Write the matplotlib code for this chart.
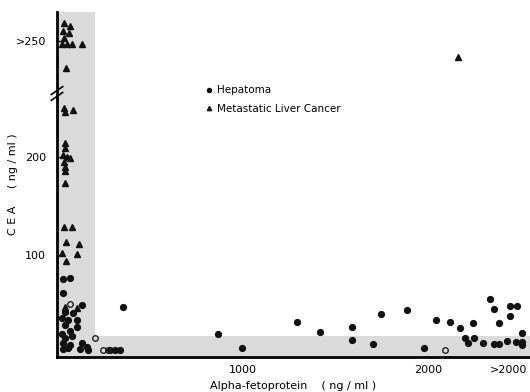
import matplotlib
matplotlib.use("Agg")
import matplotlib.pyplot as plt
import matplotlib.transforms as mtransforms

plt.rcParams['font.family'] = ['Liberation Sans Narrow', 'DejaVu Sans']

# AFP (ng/ml) on x; CEA plotted position on y (values above the break are on compressed scale)
hep_x = [32, 70, 32, 134, 43, 86, 27, 59, 108, 43, 108, 70, 27, 81, 43, 32, 70, 134, 161, 124, 167, 32, 59,
         285, 312, 339, 355,
         866, 995, 1290, 1414, 1586, 1586, 1699, 1747, 1882, 1978, 2043, 2118, 2167, 2242, 2333, 2355,
         2382, 2441, 2478, 2441, 2505, 2194, 2247, 2210, 2296, 2355, 2382, 2425, 2473, 2505, 2505]
hep_y = [76, 77, 61, 49, 42, 41, 36, 34, 34, 29, 27, 23, 20, 18, 15, 10, 8, 10, 6, 4, 3, 4, 5,
         3, 3, 3, 47,
         20, 5, 32, 22, 27, 13, 9, 40, 44, 5, 34, 32, 26, 31, 55, 45,
         31, 48, 48, 38, 21, 15, 15, 10, 10, 9, 9, 12, 11, 11, 8]

open_x = [70, 204, 247, 274, 2091]
open_y = [50, 16, 3, 3, 3]

met_x = [38, 70, 32, 65, 38, 27, 54, 81, 134, 48, 38, 43, 86, 43, 43, 32, 54, 70, 38, 43, 43, 43,
         38, 81, 48, 118, 27, 108, 48, 43, 108, 2161]
met_y = [337, 334, 329, 327, 322, 316, 316, 316, 316, 291, 250, 246, 248, 214, 209, 202, 200, 199,
         195, 190, 186, 174, 129, 129, 113, 111, 102, 101, 94, 47, 46, 302]

ytick_pos = [100, 200, 319]
ytick_labels = ['100', '200', '>250']
xtick_pos = [1000, 2000, 2430]
xtick_labels = ['1000', '2000', '>2000']

fig = plt.figure(figsize=(5.3, 3.92), dpi=100)
ax = fig.add_axes([0.1075, 0.089, 0.892, 0.88])

ax.set_xlim(0, 2545)
ax.set_ylim(-4, 348)

ax.axvspan(0, 204, color='#dadada', zorder=0, lw=0)
ax.axhspan(-4, 18, color='#dadada', zorder=0, lw=0)

ax.plot(hep_x, hep_y, 'o', color='#111111', ms=4.2, ls='none', label='Hepatoma', clip_on=False, zorder=3)
ax.plot(open_x, open_y, 'o', mfc='none', mec='#222222', mew=1.0, ms=4.0, ls='none', clip_on=False, zorder=3)
ax.plot(met_x, met_y, '^', color='#111111', ms=4.4, ls='none', label='Metastatic Liver Cancer', clip_on=False, zorder=3)

for s in ['top', 'right']:
    ax.spines[s].set_visible(False)
ax.spines['left'].set_linewidth(2.0)
ax.spines['bottom'].set_linewidth(2.0)

ax.set_yticks(ytick_pos)
ax.set_yticklabels(ytick_labels, fontsize=8)
ax.set_xticks(xtick_pos)
ax.set_xticklabels(xtick_labels, fontsize=8)
ax.tick_params(axis='y', direction='in', length=5, width=1, pad=8)
ax.tick_params(axis='x', direction='in', length=0, pad=6)

# axis break mark
trans = mtransforms.blended_transform_factory(ax.transAxes, ax.transData)
for dy in (-3, 3):
    ax.plot([-0.012, 0.012], [265 + dy - 4, 265 + dy + 4], color='black', lw=1.2,
            transform=trans, clip_on=False)

ax.set_ylabel('C E A     ( ng / ml )', fontsize=8)
ax.yaxis.set_label_coords(-0.082, 0.5)
ax.set_xlabel('Alpha-fetoprotein    ( ng / ml )', fontsize=8, labelpad=4)

leg = ax.legend(loc='upper left', bbox_to_anchor=(0.29, 0.815), frameon=False, fontsize=7.5,
                handletextpad=0.3, handlelength=1.0, labelspacing=0.8, markerscale=0.7)

fig.savefig('out.png', dpi=100)
